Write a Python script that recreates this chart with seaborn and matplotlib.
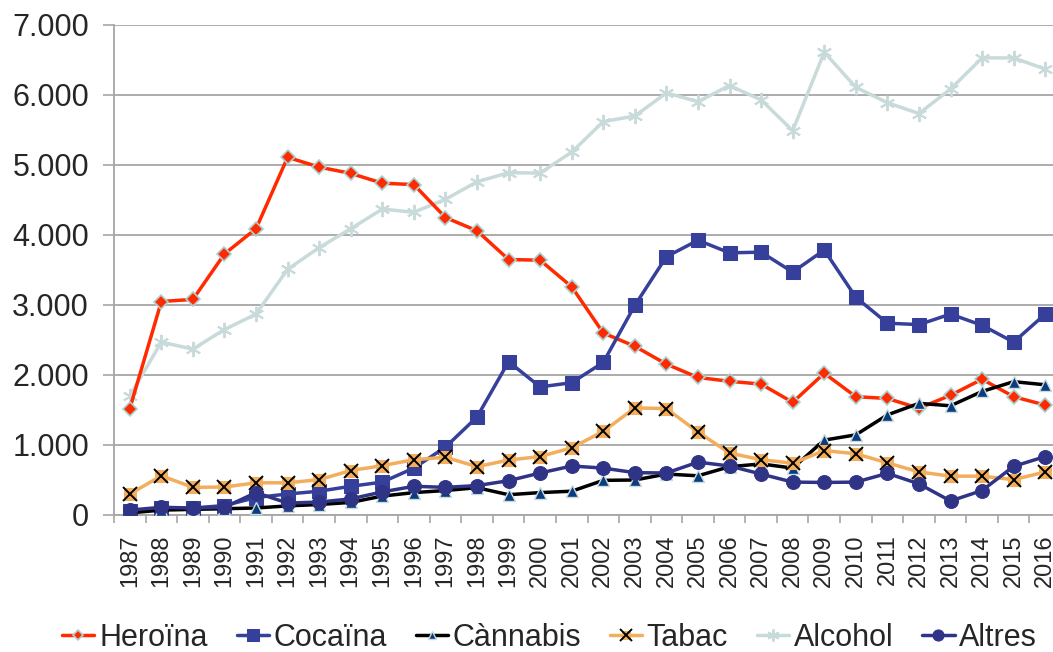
import pandas as pd
import numpy as np
import seaborn as sns
import matplotlib
matplotlib.use("Agg")
import matplotlib.pyplot as plt
from matplotlib.ticker import FuncFormatter, MultipleLocator

sns.set_theme(style="white")
plt.rcParams['font.family'] = ['Liberation Sans', 'DejaVu Sans']

# dades
years = list(range(1987, 2017))
heroina = [1520, 3050, 3080, 3730, 4090, 5110, 4970, 4880, 4740, 4720,
           4250, 4060, 3650, 3640, 3260, 2600, 2410, 2155, 1965, 1910,
           1870, 1610, 2025, 1690, 1665, 1525, 1710, 1940, 1690, 1570]
cocaina = [60, 95, 100, 135, 250, 300, 340, 410, 470, 670,
           970, 1400, 2190, 1830, 1890, 2180, 2995, 3690, 3925, 3745,
           3755, 3470, 3785, 3110, 2740, 2720, 2870, 2710, 2470, 2870]
cannabis = [30, 70, 80, 90, 100, 130, 150, 180, 270, 320,
            350, 390, 290, 320, 340, 495, 500, 585, 560, 690,
            730, 670, 1070, 1145, 1430, 1595, 1560, 1765, 1905, 1860]
tabac = [300, 560, 395, 400, 460, 460, 505, 635, 705, 790,
         825, 690, 785, 835, 960, 1195, 1530, 1520, 1185, 885,
         790, 740, 920, 875, 745, 615, 555, 555, 505, 615]
alcohol = [1700, 2470, 2370, 2650, 2870, 3510, 3820, 4090, 4370, 4325,
           4510, 4760, 4890, 4885, 5185, 5620, 5700, 6030, 5905, 6135,
           5930, 5490, 6612, 6110, 5890, 5735, 6085, 6530, 6530, 6370]
altres = [70, 110, 100, 110, 320, 170, 185, 230, 330, 410,
          395, 420, 490, 600, 700, 670, 605, 600, 755, 700,
          585, 470, 465, 470, 595, 445, 200, 350, 695, 835]

df = pd.DataFrame({"any": years, "Heroïna": heroina, "Cocaïna": cocaina,
                   "Cànnabis": cannabis, "Tabac": tabac, "Alcohol": alcohol,
                   "Altres": altres})

fig = plt.figure(figsize=(10.53, 6.52), dpi=100)
ax = fig.add_axes([114 / 1053, 1 - 515 / 652, (1061 - 114) / 1053, (515 - 25) / 652])

grey = "#A6A6A6"
lw = 2.5

sns.lineplot(data=df, x="any", y="Heroïna", ax=ax, color="#FF2A00", lw=lw,
             marker="D", markersize=7, markerfacecolor="#FF2A00",
             markeredgecolor="#A9D3D3", markeredgewidth=1.2, zorder=3)
sns.lineplot(data=df, x="any", y="Cocaïna", ax=ax, color="#363F99", lw=lw,
             marker="s", markersize=10, markerfacecolor="#363F99",
             markeredgecolor="#363F99", zorder=4)
sns.lineplot(data=df, x="any", y="Cànnabis", ax=ax, color="#000000", lw=lw,
             marker="^", markersize=8, markerfacecolor="#0B3C80",
             markeredgecolor="#C8DCDC", markeredgewidth=1.0, zorder=5)
sns.lineplot(data=df, x="any", y="Tabac", ax=ax, color="#F2AE5C", lw=lw,
             marker="s", markersize=8, markerfacecolor="#F2AE5C",
             markeredgecolor="#F2AE5C", zorder=6)
ax.plot(df["any"], df["Tabac"], ls="none", marker="x", markersize=10,
        markeredgecolor="black", markeredgewidth=1.4, zorder=6.5)
sns.lineplot(data=df, x="any", y="Alcohol", ax=ax, color="#C9DADA", lw=lw,
             marker=(6, 2, 0), markersize=11, markeredgecolor="#C9DADA",
             markeredgewidth=1.4, zorder=2)
sns.lineplot(data=df, x="any", y="Altres", ax=ax, color="#303486", lw=lw,
             marker="o", markersize=10, markerfacecolor="#303486",
             markeredgecolor="#303486", zorder=7)

ax.set_xlim(1986.5, 2016.5)
ax.set_ylim(0, 7000)
ax.set_xlabel("")
ax.set_ylabel("")

ax.set_xticks(years)
ax.set_xticklabels([str(y) for y in years], rotation=90, fontsize=17)
ax.set_xticks(np.arange(1986.5, 2017, 1), minor=True)
ax.tick_params(axis="x", which="major", length=0, pad=14)
ax.tick_params(axis="x", which="minor", length=6, width=1.2, color=grey,
               direction="out", bottom=True)

ax.yaxis.set_major_locator(MultipleLocator(1000))
ax.yaxis.set_major_formatter(FuncFormatter(lambda v, p: f"{int(v):,}".replace(",", ".")))
ax.tick_params(axis="y", labelsize=22, length=8, width=1.2, color=grey,
               direction="out", left=True, pad=10)

ax.grid(axis="y", color=grey, lw=1.3)
ax.set_axisbelow(True)
for s in ["top", "right"]:
    ax.spines[s].set_visible(False)
for s in ["left", "bottom"]:
    ax.spines[s].set_color(grey)
    ax.spines[s].set_linewidth(1.3)

# llegenda
lines = ax.get_lines()
handles = [lines[0], lines[1], lines[2], (lines[3], lines[4]), lines[5], lines[6]]
labels = ["Heroïna", "Cocaïna", "Cànnabis", "Tabac", "Alcohol", "Altres"]
if ax.get_legend():
    ax.get_legend().remove()
fig.legend(handles, labels, loc="center", bbox_to_anchor=(0.522, 0.022),
           ncol=6, frameon=False, fontsize=22, handlelength=1.05,
           handletextpad=0.15, columnspacing=0.95, markerscale=0.8)

fig.savefig("out.png", dpi=100)
